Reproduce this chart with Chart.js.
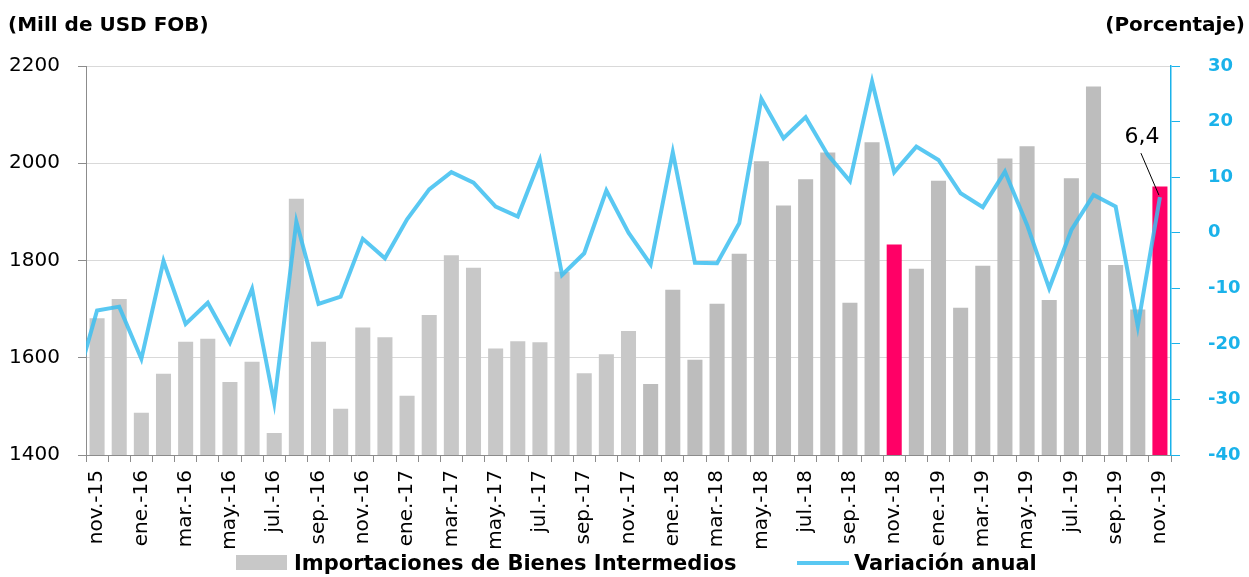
<!DOCTYPE html>
<html lang="es">
<head>
<meta charset="utf-8">
<title>Importaciones de Bienes Intermedios</title>
<script src="https://cdn.jsdelivr.net/npm/chart.js@4.4.1/dist/chart.umd.min.js"></script>
<style>
	html, body { margin: 0; padding: 0; background: #fff; }
	#wrap { position: relative; width: 1249px; height: 577px; }
</style>
</head>
<body>
<div id="wrap"><canvas id="chartImportaciones"></canvas></div>
<script>
'use strict'

const meses = [
	'nov.-15', 'dic.-15',
	'ene.-16', 'feb.-16', 'mar.-16', 'abr.-16', 'may.-16', 'jun.-16', 'jul.-16', 'ago.-16', 'sep.-16', 'oct.-16', 'nov.-16', 'dic.-16',
	'ene.-17', 'feb.-17', 'mar.-17', 'abr.-17', 'may.-17', 'jun.-17', 'jul.-17', 'ago.-17', 'sep.-17', 'oct.-17', 'nov.-17', 'dic.-17',
	'ene.-18', 'feb.-18', 'mar.-18', 'abr.-18', 'may.-18', 'jun.-18', 'jul.-18', 'ago.-18', 'sep.-18', 'oct.-18', 'nov.-18', 'dic.-18',
	'ene.-19', 'feb.-19', 'mar.-19', 'abr.-19', 'may.-19', 'jun.-19', 'jul.-19', 'ago.-19', 'sep.-19', 'oct.-19', 'nov.-19',
];

// millones de USD FOB
const importaciones = [
	1681, 1721,
	1487, 1567, 1633, 1639, 1550, 1592, 1445, 1927, 1633, 1495, 1662, 1642,
	1522, 1688, 1811, 1785, 1619, 1634, 1632, 1777, 1568, 1607, 1655, 1546,
	1740, 1596, 1711, 1814, 2004, 1913, 1967, 2022, 1713, 2043, 1833, 1783,
	1964, 1703, 1789, 2010, 2035, 1719, 1969, 2158, 1791, 1699, 1952,
];

// variación anual (%), empieza en oct.-15: un mes antes del primer rótulo
const variacion = [
	-28.0,
	-14.0, -13.3,
	-22.7, -5.1, -16.4, -12.6, -19.8, -10.1, -30.6, 2.0, -12.8, -11.5, -1.1, -4.6,
	2.4, 7.8, 10.9, 9.0, 4.7, 2.9, 13.1, -7.6, -3.7, 7.6, 0.0, -5.7,
	14.5, -5.4, -5.5, 1.7, 24.1, 17.0, 20.8, 14.0, 9.3, 27.2, 10.9, 15.5,
	13.1, 7.1, 4.6, 11.0, 1.4, -10.0, 0.5, 6.8, 4.7, -16.8, 6.4,
];

const ejeIzq = [1400, 2200, 200];
const ejeDer = [-40, 30, 10];

const colors = {
	barLight: '#c8c8c8',
	barDark: '#bdbdbd',
	highlight: '#ff0066',
	line: 'rgba(60, 190, 240, 0.85)',
	cyanAxis: '#1ab2ea',
	axis: '#8c8c8c',
	grid: '#d9d9d9',
	text: '#000',
};

Chart.defaults.font.family = "'DejaVu Sans', sans-serif";
Chart.defaults.color = colors.text;

// noviembre de los dos últimos años en magenta, desde dic.-17 un gris algo más oscuro
const barColors = meses.map((m, i) => {
	if (m === 'nov.-18' || m === 'nov.-19') return colors.highlight;
	return i < meses.indexOf('dic.-17') ? colors.barLight : colors.barDark;
});

// x = posición del mes en la lista (oct.-15 queda en -1, fuera del área)
const lineData = variacion.map((v, i) => ({ x: i - (variacion.length - meses.length), y: v }));

const fmt = (v) => v.toFixed(1).replace('.', ',');

const extras = {
	id: 'extras',
	afterDatasetsDraw(chart) {
		const ctx = chart.ctx;
		const meta = chart.getDatasetMeta(1);
		const pt = meta.data[meta.data.length - 1];
		ctx.save();
		ctx.strokeStyle = '#000';
		ctx.lineWidth = 1;
		ctx.beginPath();
		ctx.moveTo(pt.x - 19, pt.y - 44);
		ctx.lineTo(pt.x - 1, pt.y - 2);
		ctx.stroke();
		ctx.fillStyle = '#000';
		ctx.font = "22px 'DejaVu Sans'";
		ctx.textAlign = 'center';
		ctx.textBaseline = 'alphabetic';
		ctx.fillText(fmt(variacion[variacion.length - 1]), pt.x - 18, pt.y - 54);
		ctx.restore();
	},
	afterDraw(chart) {
		const ctx = chart.ctx;
		ctx.save();
		ctx.fillStyle = '#000';
		ctx.font = "bold 20px 'DejaVu Sans'";
		ctx.textBaseline = 'alphabetic';
		ctx.textAlign = 'left';
		ctx.fillText('(Mill de USD FOB)', 8, 31);
		ctx.textAlign = 'right';
		ctx.fillText('(Porcentaje)', 1245, 31);

		// leyenda
		ctx.textAlign = 'left';
		ctx.font = "bold 21px 'DejaVu Sans'";
		ctx.fillStyle = colors.barLight;
		ctx.fillRect(236, 555, 51, 15);
		ctx.fillStyle = '#000';
		ctx.fillText('Importaciones de Bienes Intermedios', 294, 570);
		ctx.strokeStyle = colors.line;
		ctx.lineWidth = 4;
		ctx.beginPath();
		ctx.moveTo(797, 563);
		ctx.lineTo(849, 563);
		ctx.stroke();
		ctx.fillText('Variación anual', 854, 570);
		ctx.restore();
	},
};

new Chart(document.getElementById('chartImportaciones'), {
	type: 'bar',
	data: {
		labels: meses,
		datasets: [
			{
				type: 'bar',
				label: 'Importaciones de Bienes Intermedios',
				data: importaciones,
				backgroundColor: barColors,
				barPercentage: 0.68,
				categoryPercentage: 1,
				grouped: false,
				yAxisID: 'y',
				xAxisID: 'x',
				order: 2,
			},
			{
				type: 'line',
				label: 'Variación anual',
				data: lineData,
				borderColor: colors.line,
				borderWidth: 4,
				pointRadius: 0,
				tension: 0,
				clip: 0,
				yAxisID: 'y1',
				xAxisID: 'xl',
				order: 1,
			},
		],
	},
	options: {
		responsive: true,
		maintainAspectRatio: false,
		animation: false,
		layout: { padding: { top: 66, left: 0, right: 0, bottom: 0 } },
		plugins: {
			legend: { display: false },
			tooltip: { enabled: false },
		},
		scales: {
			x: {
				type: 'category',
				offset: true,
				grid: {
					offset: true,
					drawOnChartArea: false,
					tickLength: 7,
					tickColor: colors.axis,
				},
				border: { color: colors.axis, width: 1 },
				ticks: {
					autoSkip: false,
					minRotation: 90,
					maxRotation: 90,
					padding: 8,
					font: { size: 20 },
					color: colors.text,
					callback: function (value, index) {
						return index % 2 === 0 ? meses[index] : '';
					},
				},
				afterFit: (scale) => { scale.height = 122; },
			},
			xl: {
				type: 'linear',
				display: false,
				offset: false,
				bounds: 'data',
				min: -0.5,
				max: meses.length - 0.5,
				grid: { offset: false },
			},
			y: {
				position: 'left',
				min: ejeIzq[0],
				max: ejeIzq[1],
				grid: {
					color: colors.grid,
					tickColor: colors.axis,
					tickLength: 8,
				},
				border: { color: colors.axis, width: 1 },
				ticks: {
					stepSize: ejeIzq[2],
					padding: 18,
					font: { size: 20 },
					color: colors.text,
					callback: (v) => String(v),
				},
				afterFit: (scale) => { scale.width = 86; },
			},
			y1: {
				position: 'right',
				min: ejeDer[0],
				max: ejeDer[1],
				grid: {
					drawOnChartArea: false,
					tickColor: colors.cyanAxis,
					tickLength: 9,
				},
				border: { color: colors.cyanAxis, width: 1.5 },
				ticks: {
					stepSize: ejeDer[2],
					padding: 28,
					font: { size: 18, weight: 'bold' },
					color: colors.cyanAxis,
					callback: (v) => String(v),
				},
				afterFit: (scale) => { scale.width = 78; },
			},
		},
	},
	plugins: [extras],
});
</script>
</body>
</html>
